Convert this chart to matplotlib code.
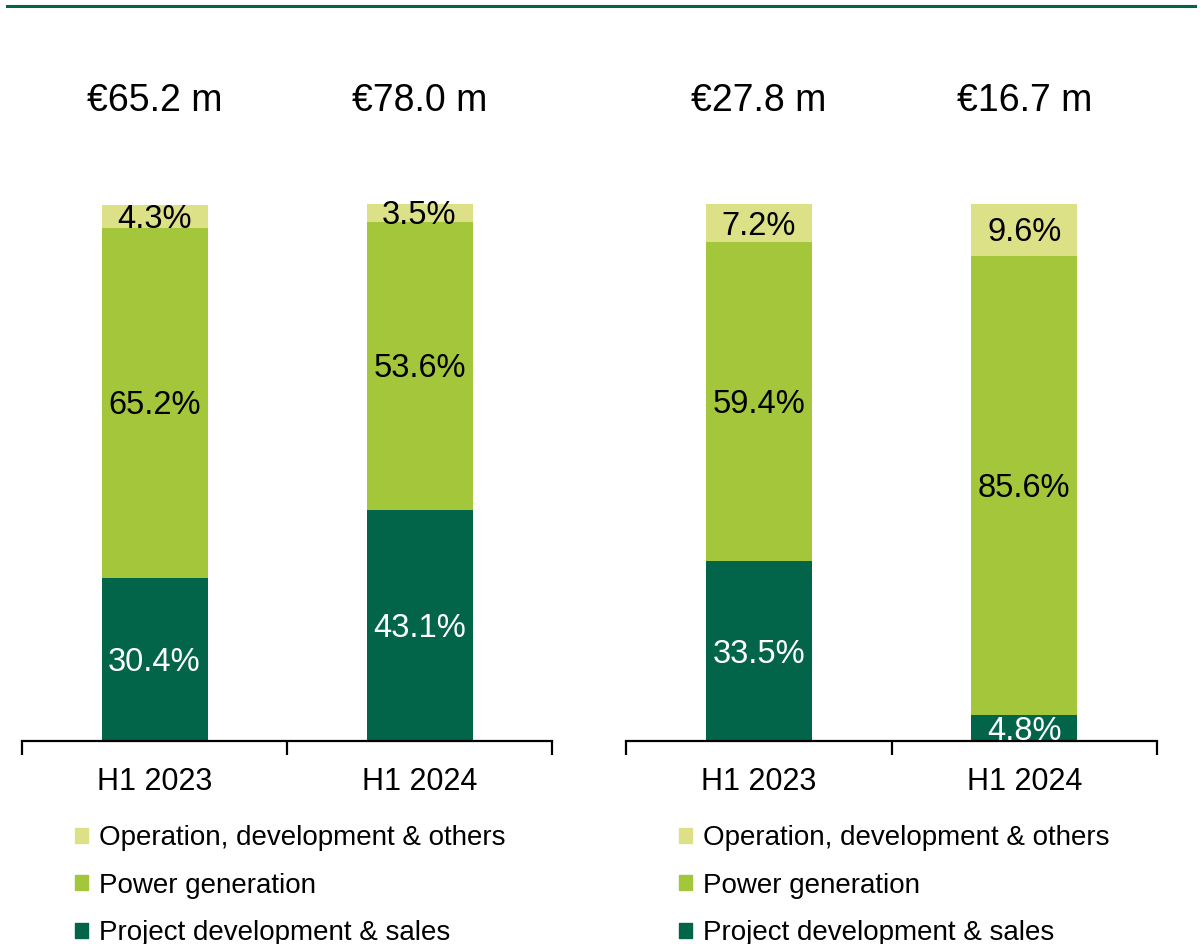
import matplotlib.pyplot as plt
import matplotlib.patches as mpatches
from matplotlib.lines import Line2D

plt.rcParams["font.family"] = ["Liberation Sans", "DejaVu Sans"]

DARK = "#026449"
MID = "#a3c63b"
LIGHT = "#dce187"

periods = ["H1 2023", "H1 2024"]
series_names = ["Project development & sales", "Power generation", "Operation, development & others"]

# left panel
left_totals = ["€65.2 m", "€78.0 m"]
left_project = [30.4, 43.1]
left_power = [65.2, 53.6]
left_other = [4.3, 3.5]

# right panel
right_totals = ["€27.8 m", "€16.7 m"]
right_project = [33.5, 4.8]
right_power = [59.4, 85.6]
right_other = [7.2, 9.6]

W, H = 1202, 944
fig = plt.figure(figsize=(W / 100, H / 100), dpi=100)
fig.patch.set_facecolor("white")

# thin rule at the top
fig.add_artist(Line2D([7 / W, 1195 / W], [1 - 6 / H, 1 - 6 / H], color=DARK, lw=2.2))


def draw_panel(x0, x1, totals, project, power, other):
    ax = fig.add_axes([x0 / W, 203 / H, (x1 - x0) / W, 537 / H])
    xs = range(len(periods))
    colors = [DARK, MID, LIGHT]
    bottoms = [0.0] * len(periods)
    for vals, col in zip([project, power, other], colors):
        ax.bar(xs, vals, bottom=bottoms, width=0.4, color=col, edgecolor="none")
        for i, v in enumerate(vals):
            tcol = "white" if col == DARK else "black"
            ax.text(i, bottoms[i] + v / 2 - 0.6, f"{v:.1f}%", ha="center", va="center",
                    fontsize=23.5, color=tcol)
        bottoms = [b + v for b, v in zip(bottoms, vals)]

    for i, t in enumerate(totals):
        ax.text(i, 119.1, t, ha="center", va="center", fontsize=27, clip_on=False)

    ax.set_xlim(-0.5, 1.5)
    ax.set_ylim(0, 100)
    for s in ["top", "right", "left"]:
        ax.spines[s].set_visible(False)
    ax.spines["bottom"].set_linewidth(1.6)
    ax.set_yticks([])
    ax.set_xticks(list(xs))
    ax.set_xticklabels(periods, fontsize=22)
    ax.tick_params(axis="x", which="major", length=0, pad=19)
    ax.set_xticks([-0.5, 0.5, 1.5], minor=True)
    ax.tick_params(axis="x", which="minor", length=10, width=1.6, direction="out")

    handles = [mpatches.Patch(color=c) for c in [LIGHT, MID, DARK]]
    labels = [series_names[2], series_names[1], series_names[0]]
    ax.legend(handles, labels, loc="upper left",
              bbox_to_anchor=((x0 + 53) / W, 1 - 825 / H), bbox_transform=fig.transFigure,
              frameon=False, fontsize=20, handlelength=0.45, handleheight=0.45,
              handletextpad=0.4, labelspacing=0.78, borderpad=0, borderaxespad=0)
    return ax


draw_panel(22, 552, left_totals, left_project, left_power, left_other)
draw_panel(626, 1157, right_totals, right_project, right_power, right_other)

fig.savefig("out.png", dpi=100, facecolor="white")
